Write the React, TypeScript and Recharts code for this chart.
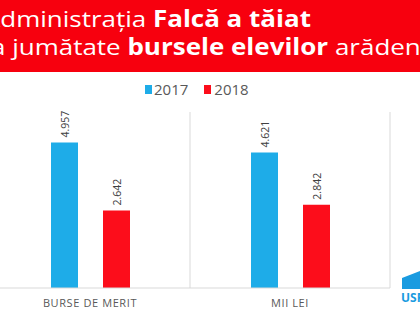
import React from 'react';
import { BarChart, Bar, XAxis, YAxis, CartesianGrid, LabelList } from 'recharts';

const categories = ['BURSE DE MERIT', 'MII LEI'];
const values2017 = [4.957, 4.621];
const values2018 = [2.642, 2.842];
const seriesNames = ['2017', '2018'];

const BLUE = '#1eace8';
const RED = '#fc0d1b';

const data = categories.map((name, i) => ({
  name,
  y2017: values2017[i],
  y2018: values2018[i],
}));

const fmt = (v: number) => v.toFixed(3);

const renderValue = (props: any) => {
  const { x, y, width, value } = props;
  const cx = x + width / 2 + 1;
  const cy = y - 5;
  return (
    <text
      x={cx}
      y={cy}
      transform={`rotate(-90 ${cx} ${cy})`}
      textAnchor="start"
      dominantBaseline="central"
      fill="#404040"
      fontSize={10.5}
      fontFamily="Open Sans"
    >
      {fmt(value)}
    </text>
  );
};

const App: React.FC = () => {
  return (
    <div style={{ position: 'absolute', left: 0, top: 0, width: 420, height: 315, overflow: 'hidden', background: '#fff' }}>
      <div style={{ position: 'absolute', left: 0, top: 0, width: 420, height: 72, background: '#f7000e' }} />
      <svg width={420} height={72} style={{ position: 'absolute', left: 0, top: 0 }}>
        {/* title is a bit stretched sideways in the original */}
        <g transform="scale(1.155,1)">
          <text x={-14} y={27} fill="#fff" fontFamily="Open Sans" fontSize={22.5}>
            Administrația <tspan fontWeight="bold">Falcă a tăiat</tspan>
          </text>
          <text x={-13.5} y={55} fill="#fff" fontFamily="Open Sans" fontSize={22.5}>
            la jumătate <tspan fontWeight="bold">bursele elevilor</tspan> arădeni
          </text>
        </g>
      </svg>
      {/* legend */}
      <div
        style={{
          position: 'absolute', top: 79, left: 145, display: 'flex', alignItems: 'center',
          fontFamily: 'Open Sans', fontSize: 15, color: '#595959',
        }}
      >
        <span style={{ width: 7, height: 9, background: BLUE, display: 'inline-block', marginRight: 2 }} />
        <span>{seriesNames[0]}</span>
        <span style={{ width: 7, height: 9, background: RED, display: 'inline-block', marginLeft: 16, marginRight: 3 }} />
        <span>{seriesNames[1]}</span>
      </div>
      <div style={{ position: 'absolute', left: -10, top: 0 }}>
        <BarChart
          width={430}
          height={315}
          data={data}
          margin={{ top: 112, right: 30, bottom: 0, left: 0 }}
          barSize={27}
          barGap={25}
        >
          <CartesianGrid horizontal={false} verticalPoints={[200, 400]} stroke="#d9d9d9" />
          <XAxis
            dataKey="name"
            height={27}
            tickLine={false}
            axisLine={{ stroke: '#d9d9d9' }}
            tick={{ fill: '#595959', fontSize: 11, fontFamily: 'Open Sans', letterSpacing: 0.6 }}
            tickMargin={5}
          />
          <YAxis hide domain={[0, 6]} />
          <Bar dataKey="y2017" fill={BLUE} isAnimationActive={false}>
            <LabelList dataKey="y2017" content={renderValue} />
          </Bar>
          <Bar dataKey="y2018" fill={RED} isAnimationActive={false}>
            <LabelList dataKey="y2018" content={renderValue} />
          </Bar>
        </BarChart>
      </div>
      <svg width={20} height={42} style={{ position: 'absolute', left: 400, top: 268 }}>
        <polygon points="2,10 20,3 20,21 2,21" fill="#1a9be0" />
        <text x={1} y={34} fill="#1a9be0" fontFamily="Open Sans" fontWeight="bold" fontSize={12}>USR</text>
      </svg>
    </div>
  );
};

export default App;
